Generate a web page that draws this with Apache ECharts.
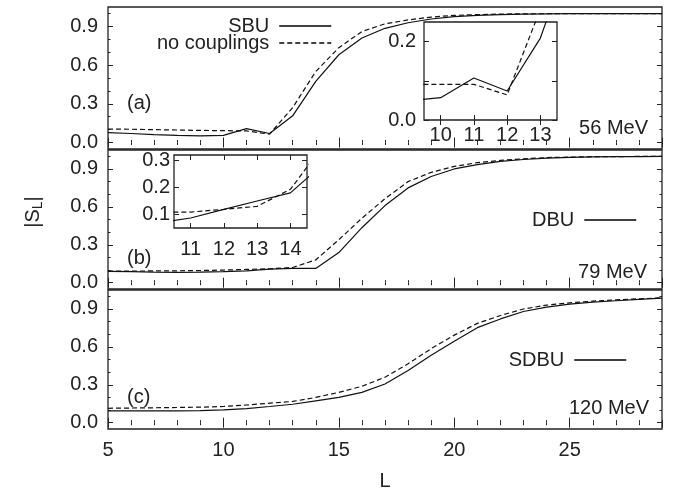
<!DOCTYPE html>
<html><head><meta charset="utf-8">
<script src="https://cdn.jsdelivr.net/npm/echarts@6/dist/echarts.min.js"></script>
<style>html,body{margin:0;padding:0;background:#fff}#c{width:683px;height:489px}</style>
</head><body><div id="c"></div>
<script>
// ---- data ----
const L = [5,6,7,8,9,10,11,12,13,14,15,16,17,18,19,20,21,22,23,24,25,26,27,28,29];
// panel (a) 56 MeV
const sbuA   = [0.077,0.070,0.062,0.055,0.052,0.056,0.108,0.070,0.207,0.474,0.680,0.810,0.885,0.928,0.957,0.975,0.985,0.991,0.995,0.997,0.998,0.999,0.999,0.999,0.999];
const noCoupA= [0.105,0.103,0.100,0.097,0.094,0.092,0.090,0.065,0.270,0.550,0.735,0.860,0.920,0.950,0.972,0.985,0.991,0.995,0.997,0.998,0.999,0.999,0.999,0.999,0.999];
// panel (b) 79 MeV
const dbuB   = [0.089,0.087,0.084,0.082,0.083,0.087,0.094,0.107,0.113,0.113,0.238,0.435,0.610,0.750,0.840,0.900,0.934,0.960,0.975,0.986,0.992,0.995,0.997,0.998,0.999];
const noCoupB= [0.092,0.092,0.093,0.094,0.096,0.100,0.105,0.110,0.120,0.180,0.340,0.510,0.665,0.800,0.873,0.920,0.950,0.968,0.980,0.990,0.994,0.997,0.998,0.999,0.999];
// panel (c) 120 MeV
const sdbuC  = [0.093,0.093,0.093,0.094,0.096,0.101,0.112,0.128,0.146,0.173,0.200,0.240,0.306,0.413,0.533,0.645,0.752,0.821,0.880,0.914,0.938,0.954,0.965,0.976,0.986];
const noCoupC= [0.114,0.116,0.118,0.120,0.123,0.128,0.140,0.154,0.168,0.200,0.240,0.288,0.360,0.466,0.586,0.693,0.786,0.848,0.900,0.930,0.948,0.962,0.972,0.980,0.988];
// inset (a)
const insetAL     = [9,10,11,12,13,14];
const insetASBU   = [0.049,0.057,0.107,0.074,0.209,0.450];
const insetANoC   = [0.091,0.091,0.091,0.064,0.283,0.550];
// inset (b)
const insetBL     = [10,11,12,13,14,15];
const insetBDBU   = [0.069,0.087,0.119,0.150,0.180,0.288];
const insetBNoC   = [0.109,0.109,0.119,0.130,0.193,0.357];
// tick values
const mainYTicks  = [0, 0.3, 0.6, 0.9];
const mainYMinor  = [0.1, 0.2, 0.4, 0.5, 0.7, 0.8, 1.0];
const insetAXTicks= [10, 11, 12, 13];
const insetAYTicks= [0, 0.1, 0.2];
const insetAYLabels=[0, 0.2];
const insetBXTicks= [11, 12, 13, 14];
const insetBYTicks= [0.1, 0.2, 0.3];

// ---- styling ----
const FONT = 'Liberation Sans, Arial, sans-serif';
const INK = '#222';
const FS = 20;
const tickLS = {color: INK, width: 1};

const grids = [
  {left:108, width:554, top:7,   height:142},
  {left:108, width:554, top:150, height:139},
  {left:108, width:554, top:290, height:139},
  {left:424, width:133, top:22,  height:98},
  {left:174, width:133, top:155, height:73}
].map(g => Object.assign({show:true, borderColor:INK, borderWidth:1.3, backgroundColor:'#fff'}, g));

const xAxes = [], yAxes = [];
function addX(o){ xAxes.push(Object.assign({type:'value', axisLine:{show:false}, splitLine:{show:false}}, o)); return xAxes.length-1; }
function addY(o){ yAxes.push(Object.assign({type:'value', axisLine:{show:false}, splitLine:{show:false}}, o)); return yAxes.length-1; }
const lbl = (o) => Object.assign({fontSize:FS, fontFamily:FONT, color:INK}, o);

const series = [];
function line(name, xs, ys, xi, yi, dashed){
  series.push({name, type:'line', xAxisIndex:xi, yAxisIndex:yi, symbol:'none', showSymbol:false, clip:true,
    color:'#111', itemStyle:{color:'#111'},
    data: xs.map((x,i)=>[x, ys[i]]), silent:true, animation:false,
    lineStyle:{color:'#111', width:1.2, type: dashed ? [5,3] : 'solid'}});
}

function mainPanel(g, showX, solidName, solid, dashed){
  const xm = addX({gridIndex:g, min:5, max:29, interval:5, position:'bottom',
    axisTick:{inside:true, length:5, lineStyle:tickLS},
    axisLabel: lbl({show:showX, showMaxLabel:false, margin:11})});
  addX({gridIndex:g, min:5, max:29, interval:1, position:'bottom',
    axisTick:{inside:true, length:2.5, lineStyle:tickLS}, axisLabel:{show:false}});
  addX({gridIndex:g, min:5, max:29, interval:5, position:'top',
    axisTick:{inside:true, length:5, lineStyle:tickLS}, axisLabel:{show:false}});
  addX({gridIndex:g, min:5, max:29, interval:1, position:'top',
    axisTick:{inside:true, length:2.5, lineStyle:tickLS}, axisLabel:{show:false}});
  const ym = addY({gridIndex:g, min:-0.05, max:1.05, position:'left',
    axisTick:{inside:true, length:5, lineStyle:tickLS, customValues:mainYTicks},
    axisLabel: lbl({customValues:mainYTicks, margin:10, formatter:v=>v.toFixed(1)})});
  addY({gridIndex:g, min:-0.05, max:1.05, position:'left',
    axisTick:{inside:true, length:2.5, lineStyle:tickLS, customValues:mainYMinor}, axisLabel:{show:false}});
  addY({gridIndex:g, min:-0.05, max:1.05, position:'right',
    axisTick:{inside:true, length:5, lineStyle:tickLS, customValues:mainYTicks}, axisLabel:{show:false}});
  addY({gridIndex:g, min:-0.05, max:1.05, position:'right',
    axisTick:{inside:true, length:2.5, lineStyle:tickLS, customValues:mainYMinor}, axisLabel:{show:false}});
  line(solidName, L, solid, xm, ym, false);
  line('no couplings', L, dashed, xm, ym, true);
}
mainPanel(0, false, 'SBU', sbuA, noCoupA);
mainPanel(1, false, 'DBU', dbuB, noCoupB);
mainPanel(2, true, 'SDBU', sdbuC, noCoupC);

function insetPanel(g, xmin, xmax, xt, xmargin, ymin, ymax, yt, yl, ymargin, sName, xs, s, d){
  const xb = addX({gridIndex:g, min:xmin, max:xmax, position:'bottom',
    axisTick:{inside:true, length:5, lineStyle:tickLS, customValues:xt},
    axisLabel: lbl({customValues:xt, margin:xmargin})});
  addX({gridIndex:g, min:xmin, max:xmax, position:'top',
    axisTick:{inside:true, length:5, lineStyle:tickLS, customValues:xt}, axisLabel:{show:false}});
  const yb = addY({gridIndex:g, min:ymin, max:ymax, position:'left',
    axisTick:{inside:true, length:5, lineStyle:tickLS, customValues:yt},
    axisLabel: lbl({customValues:yl, margin:ymargin, formatter:v=>v.toFixed(1)})});
  addY({gridIndex:g, min:ymin, max:ymax, position:'right',
    axisTick:{inside:true, length:5, lineStyle:tickLS, customValues:yt}, axisLabel:{show:false}});
  line(sName, xs, s, xb, yb, false);
  line('no couplings', xs, d, xb, yb, true);
}
insetPanel(3, 9.5, 13.5, insetAXTicks, 5, 0, 0.25, insetAYTicks, insetAYLabels, 8, 'SBU', insetAL, insetASBU, insetANoC);
insetPanel(4, 10.5, 14.5, insetBXTicks, 11, 0.05, 0.32, insetBYTicks, insetBYTicks, 4, 'DBU', insetBL, insetBDBU, insetBNoC);

const legBase = {orient:'vertical', align:'right', padding:0, itemGap:-3, itemWidth:52, itemHeight:11,
  selectedMode:false, itemStyle:{opacity:0}, lineStyle:{color:'#000', width:1.5, opacity:1},
  textStyle:{fontSize:FS, fontFamily:FONT, color:INK, padding:[0,5,0,0]}};
const legends = [
  Object.assign({data:['SBU','no couplings'], right:351, top:16}, legBase),
  Object.assign({data:['DBU'], right:46, top:210}, legBase),
  Object.assign({data:['SDBU'], right:56, top:350}, legBase)
];

function txt(text, x, y, align){
  return {type:'text', x, y, silent:true, style:{text, fontSize:FS, fontFamily:FONT, fill:INK, align, verticalAlign:'middle'}};
}
const graphics = [
  txt('(a)', 127, 103, 'left'), txt('56 MeV', 648, 128, 'right'),
  txt('(b)', 127, 258, 'left'), txt('79 MeV', 647, 272, 'right'),
  txt('(c)', 127, 397, 'left'), txt('120 MeV', 649, 408, 'right'),
  txt('L', 385, 481, 'center'),
  {type:'text', x:33, y:212, rotation:Math.PI/2, silent:true,
   style:{text:'|S{s|L}|', fontSize:FS, fontFamily:FONT, fill:INK, align:'center', verticalAlign:'middle',
     rich:{s:{fontSize:14, fontFamily:FONT, fill:INK, padding:[10,0,0,0]}}}}
];

const chart = echarts.init(document.getElementById('c'), null, {renderer:'canvas'});
chart.setOption({animation:false, grid:grids, xAxis:xAxes, yAxis:yAxes, series, legend:legends, graphic:graphics});
</script></body></html>
